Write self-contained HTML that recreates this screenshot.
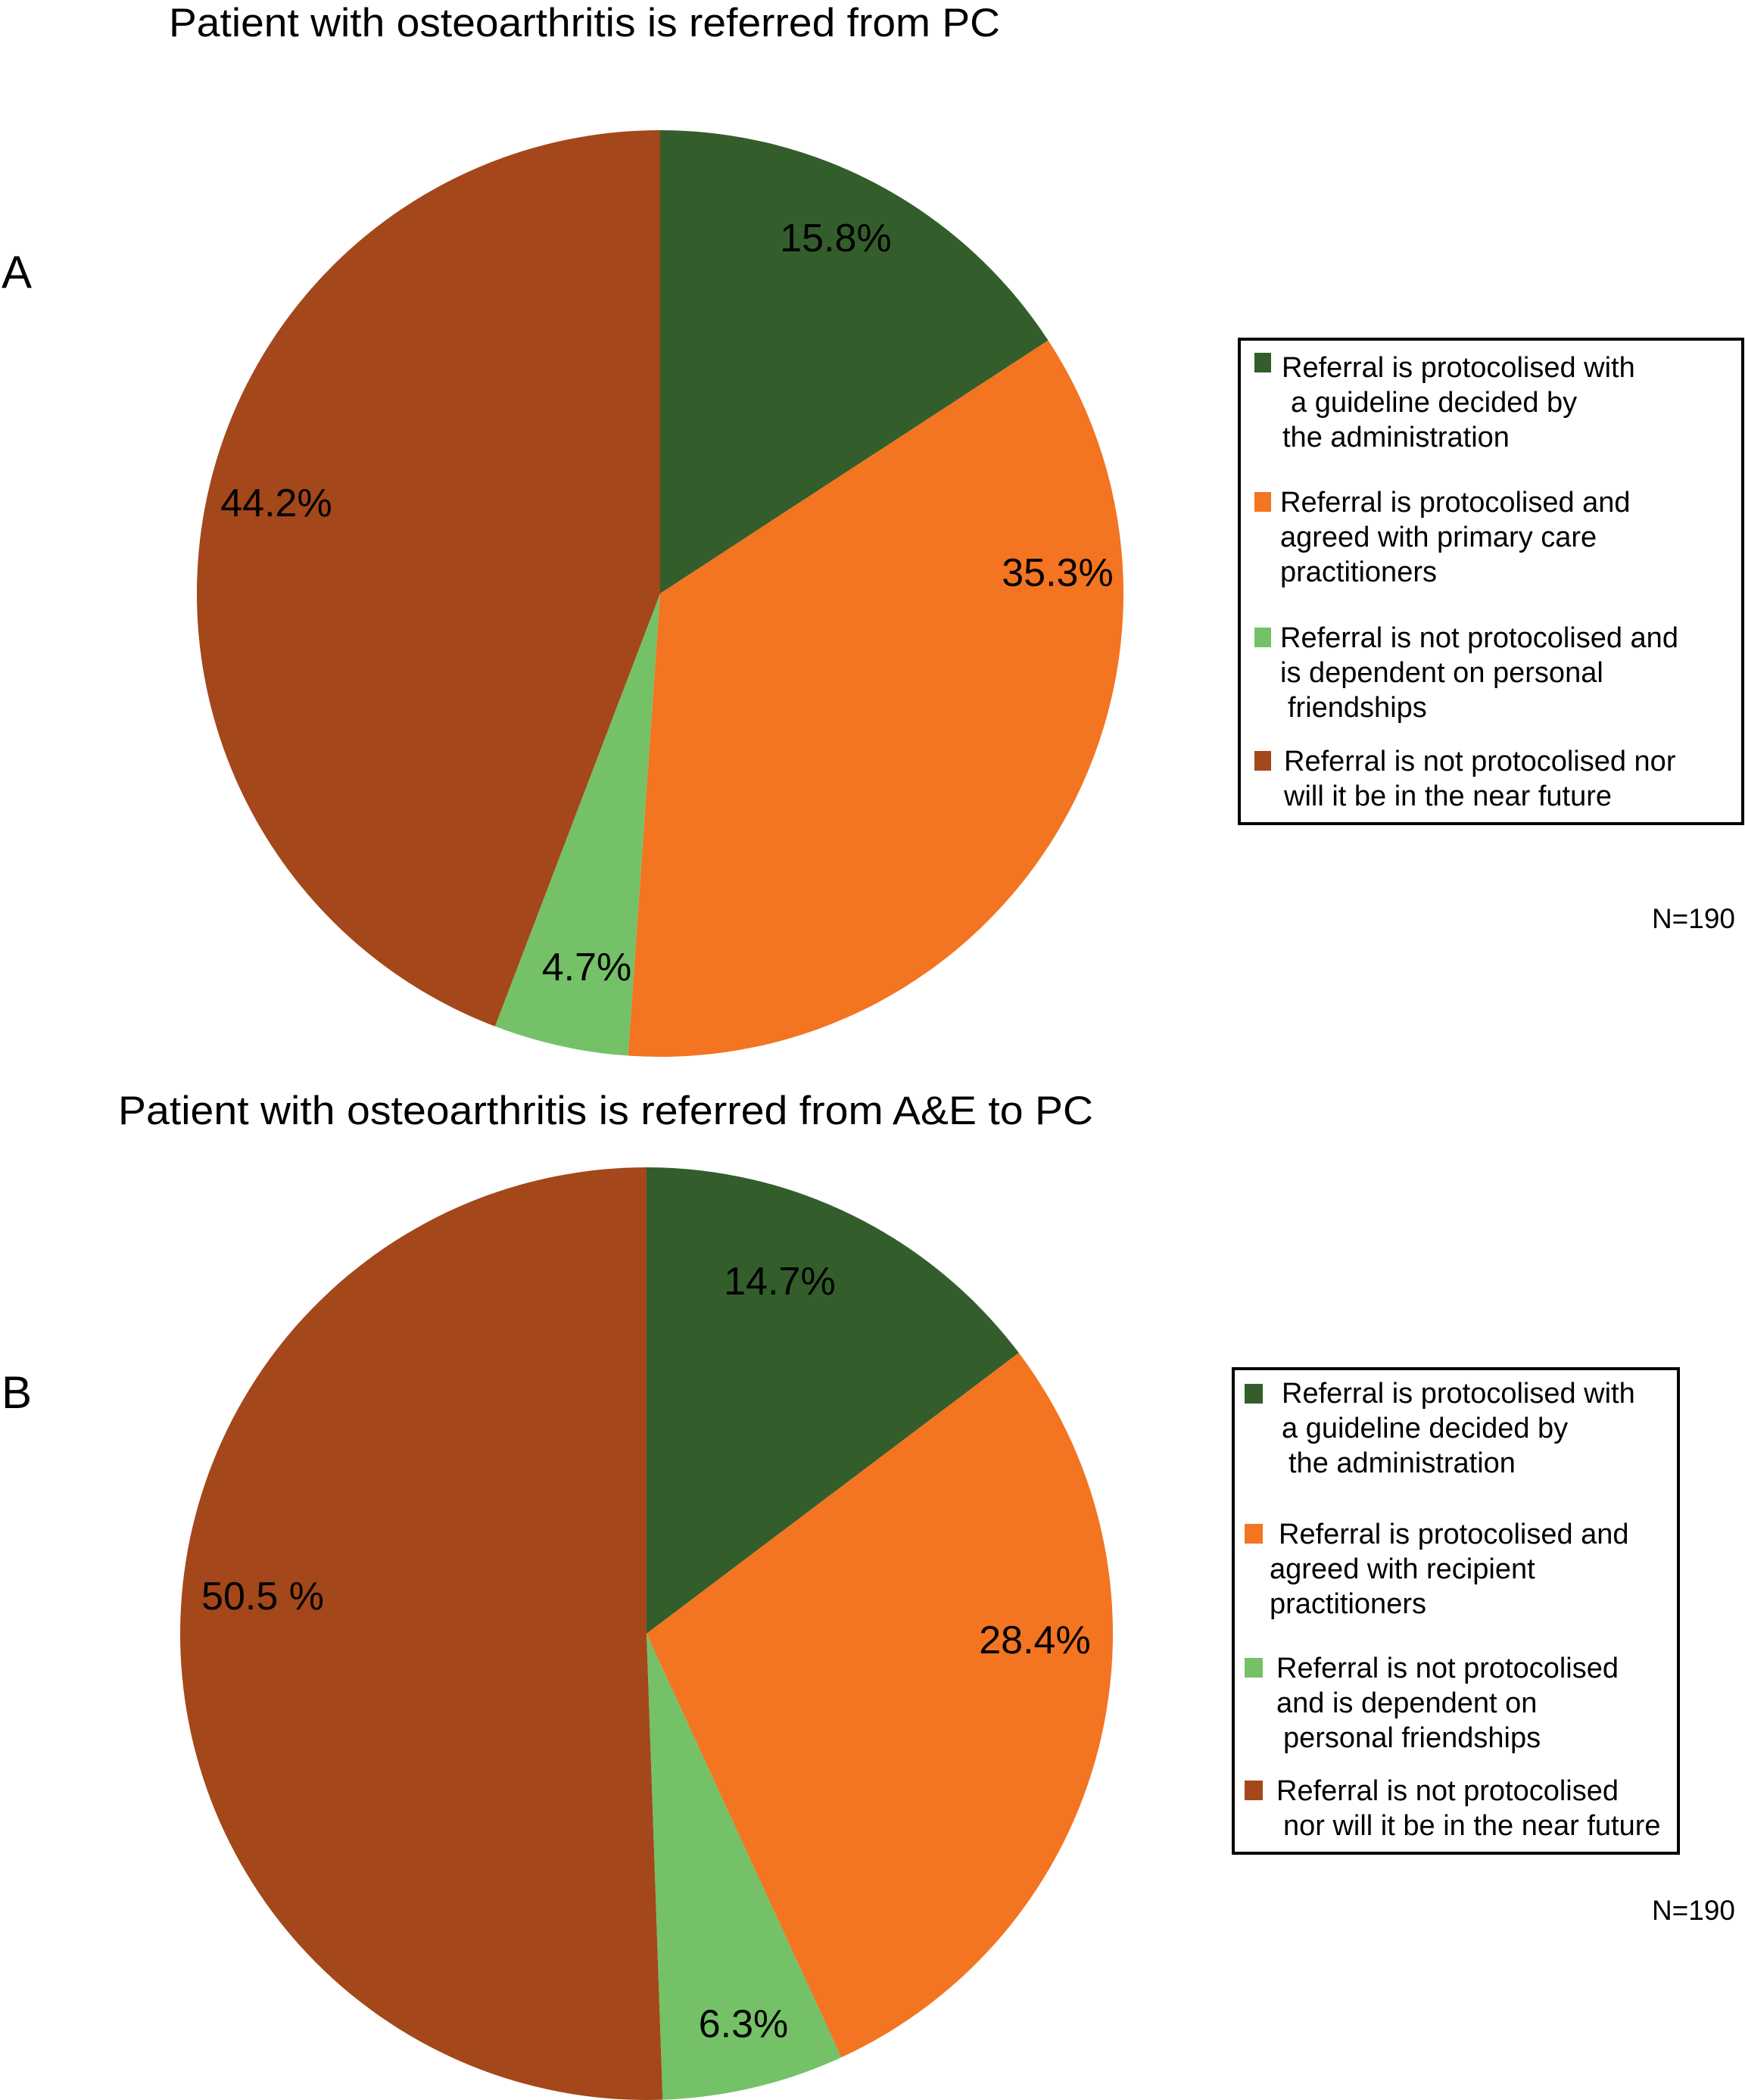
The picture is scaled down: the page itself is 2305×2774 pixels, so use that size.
<!DOCTYPE html>
<html><head><meta charset="utf-8"><style>
html,body{margin:0;padding:0;background:#fff;}
svg{display:block;font-family:"Liberation Sans",Arial,sans-serif;}
</style></head><body>
<svg id="chart" width="2305" height="2774" viewBox="0 0 2305 2774" xmlns="http://www.w3.org/2000/svg">
<rect width="2305" height="2774" fill="#fff"/>
<text x="223" y="48" font-size="53" textLength="1098" lengthAdjust="spacingAndGlyphs">Patient with osteoarthritis is referred from PC</text>
<text x="2" y="380" font-size="60">A</text>
<text x="156" y="1485" font-size="53" textLength="1288" lengthAdjust="spacingAndGlyphs">Patient with osteoarthritis is referred from A&amp;E to PC</text>
<text x="2" y="1860" font-size="60">B</text>
<g id="pieA"></g>
<g id="pieB"></g>

<g font-size="38">
<rect x="1637" y="448" width="665" height="640" fill="#fff" stroke="#000" stroke-width="4"/>
<rect x="1657" y="466" width="22" height="26" fill="#335e2b"/>
<text x="1693" y="498">Referral is protocolised with</text>
<text x="1705" y="544">a guideline decided by</text>
<text x="1694" y="590">the administration</text>
<rect x="1657" y="650" width="22" height="26" fill="#f37421"/>
<text x="1691" y="676">Referral is protocolised and</text>
<text x="1691" y="722">agreed with primary care</text>
<text x="1691" y="768">practitioners</text>
<rect x="1657" y="829" width="22" height="26" fill="#75c167"/>
<text x="1691" y="855">Referral is not protocolised and</text>
<text x="1691" y="901">is dependent on personal</text>
<text x="1701" y="947">friendships</text>
<rect x="1657" y="992" width="22" height="26" fill="#a4471a"/>
<text x="1696" y="1018">Referral is not protocolised nor</text>
<text x="1696" y="1064">will it be in the near future</text>
</g>
<text x="2292" y="1226" font-size="37" text-anchor="end">N=190</text>

<g font-size="38">
<rect x="1629" y="1808" width="588" height="640" fill="#fff" stroke="#000" stroke-width="4"/>
<rect x="1644" y="1828" width="24" height="26" fill="#335e2b"/>
<text x="1693" y="1853">Referral is protocolised with</text>
<text x="1693" y="1899">a guideline decided by</text>
<text x="1702" y="1945">the administration</text>
<rect x="1644" y="2013" width="24" height="26" fill="#f37421"/>
<text x="1689" y="2039">Referral is protocolised and</text>
<text x="1677" y="2085">agreed with recipient</text>
<text x="1677" y="2131">practitioners</text>
<rect x="1644" y="2190" width="24" height="26" fill="#75c167"/>
<text x="1686" y="2216">Referral is not protocolised</text>
<text x="1686" y="2262">and is dependent on</text>
<text x="1695" y="2308">personal friendships</text>
<rect x="1644" y="2352" width="24" height="26" fill="#a4471a"/>
<text x="1686" y="2378">Referral is not protocolised</text>
<text x="1695" y="2424">nor will it be in the near future</text>
</g>
<text x="2292" y="2536" font-size="37" text-anchor="end">N=190</text>
</svg>
<script>
const categories = ["Protocolised by administration", "Protocolised and agreed", "Not protocolised, personal friendships", "Not protocolised nor will be"];
const colors = ["#335e2b", "#f37421", "#75c167", "#a4471a"];
const valuesA = [15.8, 35.3, 4.7, 44.2];
const valuesB = [14.7, 28.4, 6.3, 50.5];
const labelsA = ["15.8%", "35.3%", "4.7%", "44.2%"];
const labelsB = ["14.7%", "28.4%", "6.3%", "50.5 %"];
const NS = "http://www.w3.org/2000/svg";

function drawPie(gid, cx, cy, r, values, labels, labelPos, key) {
  const g = document.getElementById(gid);
  const total = values.reduce((a, b) => a + b, 0);
  let acc = 0;
  values.forEach((v, i) => {
    const a0 = acc / total * 2 * Math.PI;
    acc += v;
    const a1 = acc / total * 2 * Math.PI;
    const x0 = cx + r * Math.sin(a0), y0 = cy - r * Math.cos(a0);
    const x1 = cx + r * Math.sin(a1), y1 = cy - r * Math.cos(a1);
    const large = (a1 - a0) > Math.PI ? 1 : 0;
    const p = document.createElementNS(NS, "path");
    p.setAttribute("d", `M${cx},${cy} L${x0},${y0} A${r},${r} 0 ${large} 1 ${x1},${y1} Z`);
    p.setAttribute("fill", colors[i]);
    
    
    g.appendChild(p);
  });
  labels.forEach((t, i) => {
    const tx = document.createElementNS(NS, "text");
    tx.setAttribute("x", labelPos[i][0]);
    tx.setAttribute("y", labelPos[i][1]);
    tx.setAttribute("font-size", "52");
    tx.setAttribute("text-anchor", "middle");
    tx.setAttribute("dominant-baseline", "central");
    tx.textContent = t;
    
    
    g.appendChild(tx);
  });
}
drawPie("pieA", 872, 784, 612, valuesA, labelsA, [[1104,315],[1397,757],[775,1278],[365,665]], "pie-a");
drawPie("pieB", 854, 2158, 616, valuesB, labelsB, [[1030,1693],[1367,2167],[982,2674],[347,2109]], "pie-b");
</script>
</body></html>
